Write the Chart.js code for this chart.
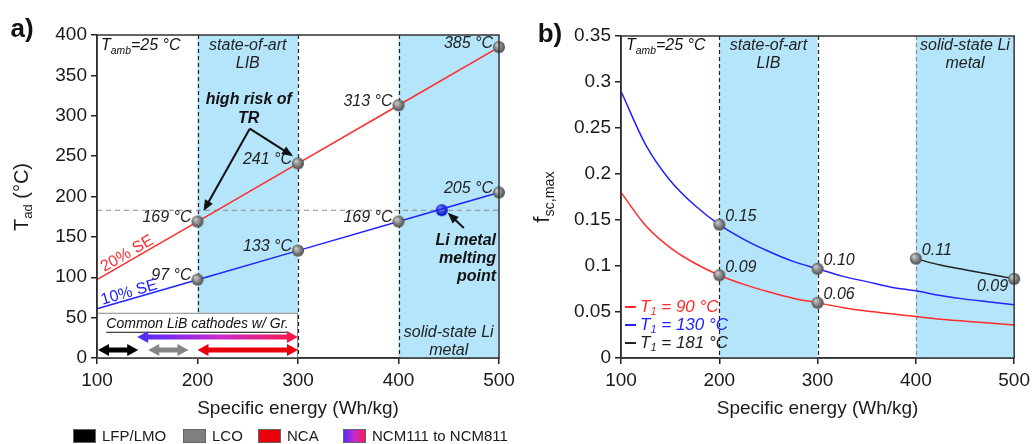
<!DOCTYPE html>
<html>
<head>
<meta charset="utf-8">
<script src="https://cdn.jsdelivr.net/npm/chart.js@4.4.1/dist/chart.umd.min.js"></script>
<style>
  html, body { margin: 0; padding: 0; background: #fff; }
  #wrap { position: relative; width: 1035px; height: 444px; }
  #left { position: absolute; left: 0; top: 0; }
  #right { position: absolute; left: 520px; top: 0; }
</style>
</head>
<body>
<div id="wrap">
  <canvas id="left" width="520" height="444"></canvas>
  <canvas id="right" width="515" height="444"></canvas>
</div>
<script>
// ---------- panel a) adiabatic temperature ----------
const energyA = [100, 200, 300, 400, 500];
const tad20 = [97, 169, 241, 313, 385];
const tad10 = [61, 97, 133, 169, 205];
const lab20 = ['', '169 °C', '241 °C', '313 °C', '385 °C'];
const lab10 = ['', '97 °C', '133 °C', '169 °C', '205 °C'];
const meltT = 183;     // Li melting line
const meltE = 443;     // where 10% SE crosses it

// cathode ranges (Wh/kg) in the inset
const cathodes = ['LFP/LMO', 'LCO', 'NCA', 'NCM111 to NCM811'];
const cathodeFrom = [101, 151, 200, 140];
const cathodeTo = [141, 191, 300, 300];

// ---------- panel b) max short circuit fraction ----------
const energyB = [100, 125, 150, 175, 200, 225, 250, 275, 300, 325, 350, 375, 400, 425, 450, 475, 500];
const fsc90 = [0.180, 0.144, 0.120, 0.103, 0.090, 0.080, 0.072, 0.065, 0.060, 0.055, 0.051, 0.048, 0.045, 0.042, 0.040, 0.038, 0.036];
const fsc130 = [0.290, 0.232, 0.193, 0.166, 0.145, 0.129, 0.116, 0.105, 0.097, 0.089, 0.083, 0.077, 0.073, 0.068, 0.064, 0.061, 0.058];
const lab90 = ['', '', '', '', '0.09', '', '', '', '0.06', '', '', '', '', '', '', '', ''];
const lab130 = ['', '', '', '', '0.15', '', '', '', '0.10', '', '', '', '', '', '', '', ''];
const energyC = [400, 425, 450, 475, 500];
const fsc181 = [0.108, 0.101, 0.096, 0.091, 0.086];
const lab181 = ['0.11', '', '', '', '0.09'];
const seriesB = ['T1 = 90 °C', 'T1 = 130 °C', 'T1 = 181 °C'];

const FONT = "'Liberation Sans', Arial, sans-serif";
const SHADE = '#b5e5fa';
const RED = '#ff2b2b';
const BLUE = '#2222ff';

function sphere(r, light, dark) {
  const c = document.createElement('canvas');
  c.width = c.height = 2 * r + 2;
  const g = c.getContext('2d');
  const m = r + 1;
  const gr = g.createRadialGradient(m - r * 0.35, m - r * 0.4, r * 0.1, m, m, r);
  gr.addColorStop(0, light);
  gr.addColorStop(1, dark);
  g.fillStyle = gr;
  g.beginPath();
  g.arc(m, m, r, 0, Math.PI * 2);
  g.fill();
  return c;
}
const grayBall = sphere(6, '#c9c9c9', '#4a4a4a');
const blueBall = sphere(6, '#7080ff', '#0010c0');

function xy(xs, ys) { return xs.map((v, i) => ({ x: v, y: ys[i] })); }

// text with subscripts: parts = [[text, isSub], ...]
function subText(ctx, parts, x, y, size, style, align) {
  let w = 0;
  parts.forEach(p => {
    ctx.font = style + ' ' + (p[1] ? size * 0.65 : size) + 'px ' + FONT;
    w += ctx.measureText(p[0]).width;
  });
  let cx = align === 'center' ? x - w / 2 : (align === 'right' ? x - w : x);
  ctx.textAlign = 'left';
  ctx.textBaseline = 'middle';
  parts.forEach(p => {
    ctx.font = style + ' ' + (p[1] ? size * 0.65 : size) + 'px ' + FONT;
    ctx.fillText(p[0], cx, p[1] ? y + size * 0.3 : y);
    cx += ctx.measureText(p[0]).width;
  });
}

function text(ctx, s, x, y, font, color, align) {
  ctx.font = font;
  ctx.fillStyle = color;
  ctx.textAlign = align || 'center';
  ctx.textBaseline = 'middle';
  ctx.fillText(s, x, y);
}

function arrow(ctx, x1, y1, x2, y2) {
  const a = Math.atan2(y2 - y1, x2 - x1);
  ctx.strokeStyle = '#111';
  ctx.fillStyle = '#111';
  ctx.lineWidth = 2;
  ctx.setLineDash([]);
  ctx.beginPath();
  ctx.moveTo(x1, y1);
  ctx.lineTo(x2 - 8 * Math.cos(a), y2 - 8 * Math.sin(a));
  ctx.stroke();
  ctx.beginPath();
  ctx.moveTo(x2, y2);
  ctx.lineTo(x2 - 11 * Math.cos(a) + 4.5 * Math.sin(a), y2 - 11 * Math.sin(a) - 4.5 * Math.cos(a));
  ctx.lineTo(x2 - 11 * Math.cos(a) - 4.5 * Math.sin(a), y2 - 11 * Math.sin(a) + 4.5 * Math.cos(a));
  ctx.closePath();
  ctx.fill();
}

function dblArrow(ctx, x1, x2, y, fill) {
  const h = 11, hw = 6, t = 2.5;
  ctx.fillStyle = fill;
  ctx.beginPath();
  ctx.moveTo(x1, y);
  ctx.lineTo(x1 + h, y - hw);
  ctx.lineTo(x1 + h, y - t);
  ctx.lineTo(x2 - h, y - t);
  ctx.lineTo(x2 - h, y - hw);
  ctx.lineTo(x2, y);
  ctx.lineTo(x2 - h, y + hw);
  ctx.lineTo(x2 - h, y + t);
  ctx.lineTo(x1 + h, y + t);
  ctx.lineTo(x1 + h, y + hw);
  ctx.closePath();
  ctx.fill();
}

function ncmGrad(ctx, x1, x2) {
  const g = ctx.createLinearGradient(x1, 0, x2, 0);
  g.addColorStop(0, '#4b2cff');
  g.addColorStop(0.5, '#c82ad0');
  g.addColorStop(1, '#ff1744');
  return g;
}

function shadeAndDash(chart, dashColors) {
  const { ctx, chartArea: a, scales: { x } } = chart;
  ctx.save();
  ctx.fillStyle = SHADE;
  [[200, 300], [400, 500]].forEach(r => {
    const x1 = x.getPixelForValue(r[0]), x2 = x.getPixelForValue(r[1]);
    ctx.fillRect(x1, a.top, x2 - x1, a.bottom - a.top);
  });
  ctx.setLineDash([4, 3]);
  ctx.lineWidth = 1.2;
  [200, 300, 400].forEach((v, i) => {
    const px = Math.round(x.getPixelForValue(v)) + 0.5;
    ctx.strokeStyle = dashColors[i];
    ctx.beginPath();
    ctx.moveTo(px, a.top);
    ctx.lineTo(px, a.bottom);
    ctx.stroke();
  });
  ctx.restore();
}

function frame(chart) {
  const { ctx, chartArea: a } = chart;
  ctx.save();
  ctx.strokeStyle = '#333';
  ctx.lineWidth = 1.5;
  ctx.setLineDash([]);
  ctx.strokeRect(a.left, a.top, a.right - a.left, a.bottom - a.top);
  ctx.restore();
}

function pointLabels(chart, idx, labels, dx, dy, align, color) {
  const { ctx } = chart;
  const meta = chart.getDatasetMeta(idx);
  labels.forEach((s, i) => {
    if (!s) return;
    const p = meta.data[i];
    text(ctx, s, p.x + dx, p.y + dy, 'italic 16px ' + FONT, color, align);
  });
}

const commonScales = (yMin, yMax, yStep, yWidth, fmt) => ({
  x: {
    type: 'linear', min: 100, max: 500,
    afterFit: s => { s.height = 86; },
    border: { color: '#222', width: 1.5 },
    grid: { drawOnChartArea: false, color: '#222', tickLength: 6, lineWidth: 1.5 },
    ticks: { stepSize: 100, color: '#1a1a1a', font: { family: FONT, size: 19 }, padding: 5, maxRotation: 0 },
    title: { display: true, text: 'Specific energy (Wh/kg)', color: '#1a1a1a', font: { family: FONT, size: 19 }, padding: { top: 0, bottom: 24 } }
  },
  y: {
    type: 'linear', min: yMin, max: yMax,
    afterFit: s => { s.width = yWidth; },
    border: { color: '#222', width: 1.5 },
    grid: { drawOnChartArea: false, color: '#222', tickLength: 6, lineWidth: 1.5 },
    ticks: { stepSize: yStep, color: '#1a1a1a', font: { family: FONT, size: 19 }, padding: 4, callback: fmt }
  }
});

// ================= panel a =================
const panelA = {
  id: 'panelA',
  beforeDatasetsDraw(chart) {
    const { ctx, chartArea: a, scales: { x, y } } = chart;
    shadeAndDash(chart, ['#222', '#222', '#222']);
    ctx.save();
    // inset box
    const bx2 = x.getPixelForValue(300), by1 = y.getPixelForValue(56);
    ctx.fillStyle = '#fff';
    ctx.fillRect(a.left, by1, bx2 - a.left, a.bottom - by1);
    ctx.strokeStyle = '#888';
    ctx.lineWidth = 1;
    ctx.strokeRect(a.left + 0.5, by1 + 0.5, bx2 - a.left - 1, a.bottom - by1);
    ctx.font = 'italic 14px ' + FONT;
    ctx.fillStyle = '#111';
    ctx.textAlign = 'center';
    ctx.textBaseline = 'middle';
    const cx = (a.left + bx2) / 2, ty = by1 + 11;
    ctx.fillText('Common LiB cathodes w/ Gr.', cx, ty);
    const tw = ctx.measureText('Common LiB cathodes w/ Gr.').width;
    ctx.fillRect(cx - tw / 2, ty + 8, tw, 1);
    const fills = ['#000', '#858585', '#e8000b', null];
    const lanes = [10, 10, 10, 26];
    cathodes.forEach((c, i) => {
      const x1 = x.getPixelForValue(cathodeFrom[i]), x2 = x.getPixelForValue(cathodeTo[i]);
      dblArrow(ctx, x1, x2, y.getPixelForValue(lanes[i]), fills[i] || ncmGrad(ctx, x1, x2));
    });
    ctx.restore();
  },
  afterDatasetsDraw(chart) {
    const { ctx, chartArea: a, scales: { x, y } } = chart;
    ctx.save();
    pointLabels(chart, 0, lab20, -6, -4, 'right', '#222');
    pointLabels(chart, 1, lab10, -6, -4, 'right', '#222');
    ctx.fillStyle = '#111';
    subText(ctx, [['T', 0], ['amb', 1], ['=25 °C', 0]], a.left + 4, a.top + 11, 16, 'italic', 'left');
    text(ctx, 'state-of-art', x.getPixelForValue(250), a.top + 11, 'italic 16px ' + FONT, '#222');
    text(ctx, 'LIB', x.getPixelForValue(250), a.top + 29, 'italic 16px ' + FONT, '#222');
    text(ctx, 'high risk of', x.getPixelForValue(251), y.getPixelForValue(320), 'italic bold 16px ' + FONT, '#111');
    text(ctx, 'TR', x.getPixelForValue(251), y.getPixelForValue(320) + 19, 'italic bold 16px ' + FONT, '#111');
    const mx = x.getPixelForValue(497), my = y.getPixelForValue(145);
    ['Li metal', 'melting', 'point'].forEach((s, i) => text(ctx, s, mx, my + 18 * i, 'italic bold 16px ' + FONT, '#111', 'right'));
    text(ctx, 'solid-state Li', x.getPixelForValue(450), a.bottom - 25, 'italic 16px ' + FONT, '#222');
    text(ctx, 'metal', x.getPixelForValue(450), a.bottom - 7, 'italic 16px ' + FONT, '#222');
    // rotated series names
    [['20% SE', 130, 129, -30, RED], ['10% SE', 132, 81, -16, BLUE]].forEach(r => {
      ctx.save();
      ctx.translate(x.getPixelForValue(r[1]), y.getPixelForValue(r[2]));
      ctx.rotate(r[3] * Math.PI / 180);
      text(ctx, r[0], 0, 0, '16px ' + FONT, r[4]);
      ctx.restore();
    });
    // annotation arrows
    const ax = x.getPixelForValue(252), ay = y.getPixelForValue(284);
    arrow(ctx, ax, ay, x.getPixelForValue(206), y.getPixelForValue(182));
    arrow(ctx, ax, ay, x.getPixelForValue(295), y.getPixelForValue(250));
    arrow(ctx, x.getPixelForValue(465), y.getPixelForValue(161), x.getPixelForValue(449), y.getPixelForValue(180));
    ctx.restore();
    frame(chart);
  },
  afterDraw(chart) {
    const { ctx } = chart;
    ctx.save();
    text(ctx, 'a)', 22, 30, 'bold 26px ' + FONT, '#111');
    // y title
    ctx.translate(22, 197);
    ctx.rotate(-Math.PI / 2);
    ctx.fillStyle = '#1a1a1a';
    subText(ctx, [['T', 0], ['ad', 1], [' (°C)', 0]], 0, 0, 20, '', 'center');
    ctx.restore();
    // cathode colour key
    ctx.save();
    const keyX = [73, 183, 258, 343];
    const keyFill = ['#000', '#7f7f7f', '#e8000b', null];
    cathodes.forEach((c, i) => {
      ctx.fillStyle = keyFill[i] || ncmGrad(ctx, keyX[i], keyX[i] + 23);
      ctx.fillRect(keyX[i], 429, 23, 14);
      ctx.strokeStyle = '#666';
      ctx.lineWidth = 1;
      ctx.strokeRect(keyX[i] + 0.5, 429.5, 22, 13);
      text(ctx, c, keyX[i] + 29, 437, '15px ' + FONT, '#1a1a1a', 'left');
    });
    ctx.restore();
  }
};

new Chart(document.getElementById('left'), {
  type: 'line',
  data: {
    datasets: [
      { data: xy(energyA, tad20), borderColor: RED, borderWidth: 1.5, pointStyle: grayBall, pointRadius: energyA.map(e => e > 100 ? 6 : 0), clip: false },
      { data: xy(energyA, tad10), borderColor: BLUE, borderWidth: 1.5, pointStyle: grayBall, pointRadius: energyA.map(e => e > 100 ? 6 : 0), clip: false },
      { data: [{ x: 100, y: meltT }, { x: 500, y: meltT }], borderColor: '#8a8a8a', borderWidth: 1.2, borderDash: [5, 4], pointRadius: 0 },
      { data: [{ x: meltE, y: meltT }], showLine: false, pointStyle: blueBall, pointRadius: 6 }
    ]
  },
  options: {
    responsive: false,
    animation: false,
    devicePixelRatio: 1,
    events: [],
    layout: { padding: { left: 0, top: 35, right: 21, bottom: 0 } },
    plugins: { legend: { display: false }, tooltip: { enabled: false } },
    scales: commonScales(0, 400, 50, 97)
  },
  plugins: [panelA]
});

// ================= panel b =================
const panelB = {
  id: 'panelB',
  beforeDatasetsDraw(chart) {
    shadeAndDash(chart, ['#222', '#222', '#8a8a8a']);
  },
  afterDatasetsDraw(chart) {
    const { ctx, chartArea: a, scales: { x } } = chart;
    ctx.save();
    pointLabels(chart, 0, lab90, 6, -8, 'left', '#222');
    pointLabels(chart, 1, lab130, 6, -8, 'left', '#222');
    pointLabels(chart, 2, lab181.slice(0, 1), 6, -8, 'left', '#222');
    pointLabels(chart, 2, lab181.map((s, i) => i === lab181.length - 1 ? s : ''), -6, 8, 'right', '#222');
    ctx.fillStyle = '#111';
    subText(ctx, [['T', 0], ['amb', 1], ['=25 °C', 0]], a.left + 5, a.top + 10, 16, 'italic', 'left');
    text(ctx, 'state-of-art', x.getPixelForValue(250), a.top + 10, 'italic 16px ' + FONT, '#222');
    text(ctx, 'LIB', x.getPixelForValue(250), a.top + 28, 'italic 16px ' + FONT, '#222');
    text(ctx, 'solid-state Li', x.getPixelForValue(450), a.top + 10, 'italic 16px ' + FONT, '#222');
    text(ctx, 'metal', x.getPixelForValue(450), a.top + 28, 'italic 16px ' + FONT, '#222');
    // legend
    const cols = [RED, BLUE, '#222'];
    seriesB.forEach((s, i) => {
      const ly = a.bottom - 51 + 18 * i;
      ctx.strokeStyle = cols[i];
      ctx.lineWidth = 2;
      ctx.beginPath();
      ctx.moveTo(a.left + 4, ly);
      ctx.lineTo(a.left + 15, ly);
      ctx.stroke();
      ctx.fillStyle = cols[i];
      const t = s.split(' = ');
      subText(ctx, [['T', 0], ['1', 1], [' = ' + t[1], 0]], a.left + 19, ly, 17, 'italic', 'left');
    });
    ctx.restore();
    frame(chart);
  },
  afterDraw(chart) {
    const { ctx } = chart;
    ctx.save();
    text(ctx, 'b)', 30, 35, 'bold 26px ' + FONT, '#111');
    ctx.translate(23, 197);
    ctx.rotate(-Math.PI / 2);
    ctx.fillStyle = '#1a1a1a';
    subText(ctx, [['f', 0], ['sc,max', 1]], 0, 0, 22, '', 'center');
    ctx.restore();
  }
};

new Chart(document.getElementById('right'), {
  type: 'line',
  data: {
    datasets: [
      { data: xy(energyB, fsc90), borderColor: RED, borderWidth: 1.5, cubicInterpolationMode: 'monotone', pointStyle: grayBall, pointRadius: lab90.map(s => s ? 6 : 0), clip: false },
      { data: xy(energyB, fsc130), borderColor: BLUE, borderWidth: 1.5, cubicInterpolationMode: 'monotone', pointStyle: grayBall, pointRadius: lab130.map(s => s ? 6 : 0), clip: false },
      { data: xy(energyC, fsc181), borderColor: '#222', borderWidth: 1.5, cubicInterpolationMode: 'monotone', pointStyle: grayBall, pointRadius: lab181.map(s => s ? 6 : 0), clip: false }
    ]
  },
  options: {
    responsive: false,
    animation: false,
    devicePixelRatio: 1,
    events: [],
    layout: { padding: { left: 0, top: 36, right: 16, bottom: 0 } },
    plugins: { legend: { display: false }, tooltip: { enabled: false } },
    scales: commonScales(0, 0.35, 0.05, 101, v => String(+v.toFixed(2)))
  },
  plugins: [panelB]
});
</script>
</body>
</html>
